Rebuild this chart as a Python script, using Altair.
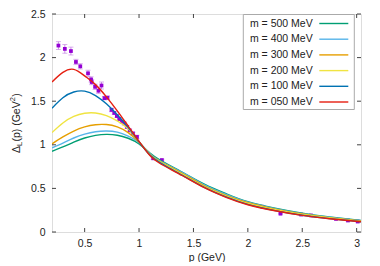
import altair as alt
import pandas as pd

# ---------------- data ----------------
p_grid = [0.2, 0.3, 0.4, 0.5, 0.6, 0.7, 0.8, 0.9, 1.0, 1.1, 1.2, 1.4, 1.6, 1.8, 2.0, 2.25, 2.5, 2.75, 3.04]

d500 = [0.925, 0.975, 1.03, 1.078, 1.108, 1.12, 1.11, 1.075, 1.01, 0.905, 0.82, 0.685, 0.55, 0.44, 0.347, 0.273, 0.215, 0.172, 0.133]
d400 = [0.965, 1.02, 1.078, 1.122, 1.15, 1.158, 1.145, 1.10, 1.025, 0.898, 0.81, 0.68, 0.54, 0.43, 0.342, 0.268, 0.211, 0.169, 0.130]
d300 = [1.01, 1.09, 1.158, 1.205, 1.23, 1.232, 1.205, 1.14, 1.03, 0.892, 0.805, 0.67, 0.53, 0.42, 0.335, 0.262, 0.206, 0.165, 0.127]
d200 = [1.14, 1.25, 1.325, 1.362, 1.365, 1.335, 1.275, 1.185, 1.035, 0.887, 0.80, 0.66, 0.52, 0.412, 0.327, 0.255, 0.200, 0.160, 0.122]
d100 = [1.42, 1.54, 1.605, 1.615, 1.565, 1.47, 1.345, 1.20, 1.035, 0.882, 0.79, 0.65, 0.512, 0.402, 0.316, 0.245, 0.192, 0.153, 0.118]
d050 = [1.72, 1.83, 1.865, 1.79, 1.69, 1.55, 1.39, 1.215, 1.04, 0.877, 0.78, 0.645, 0.508, 0.398, 0.313, 0.243, 0.190, 0.152, 0.117]

series_labels = ["m = 500 MeV", "m = 400 MeV", "m = 300 MeV", "m = 200 MeV", "m = 100 MeV", "m = 050 MeV"]
series_values = [d500, d400, d300, d200, d100, d050]
series_colors = ["#009e73", "#56b4e9", "#e69f00", "#f0e442", "#0072b2", "#e51e10"]

lat_p = [0.259, 0.318, 0.374, 0.42, 0.46, 0.531, 0.559, 0.565, 0.596, 0.627, 0.655, 0.682, 0.71,
         0.747, 0.772, 0.796, 0.818, 0.843, 0.865, 0.889, 0.914, 0.944, 0.981, 1.13, 1.21,
         2.133, 2.30, 2.49, 2.58, 2.81, 2.92, 3.01]
lat_D = [2.138, 2.10, 2.075, 1.95, 1.90, 1.82, 1.75, 1.72, 1.665, 1.62, 1.68, 1.535, 1.54,
         1.40, 1.365, 1.33, 1.295, 1.265, 1.245, 1.205, 1.165, 1.13, 1.09, 0.845, 0.825,
         0.29, 0.21, 0.20, 0.19, 0.15, 0.132, 0.12]
lat_err = [0.045, 0.05, 0.045, 0.03, 0.03, 0.035, 0.03, 0.03, 0.03, 0.03, 0.04, 0.02, 0.02,
           0.02, 0.015, 0.015, 0.015, 0.015, 0.015, 0.015, 0.015, 0.015, 0.02, 0.01, 0.01,
           0.005, 0.005, 0.005, 0.005, 0.005, 0.005, 0.005]

x_ticks = [0.5, 1, 1.5, 2, 2.5, 3]
y_ticks = [0, 0.5, 1, 1.5, 2, 2.5]

# ---------------- layout ----------------
W, H = 309, 218
FONT = "Liberation Sans"
FS = 10.5
TXT = "#222222"

xs = alt.Scale(domain=[0.2, 3.04], nice=False, zero=False)
ys = alt.Scale(domain=[0, 2.5], nice=False, zero=False)
color_scale = alt.Scale(domain=series_labels, range=series_colors)

x_axis = alt.Axis(values=x_ticks, format="~g", tickSize=0, domain=False, grid=False,
                  labelPadding=6, title="p (GeV)", titlePadding=4, titleFontWeight="normal",
                  titleFont=FONT, titleFontSize=FS, titleColor=TXT,
                  labelFont=FONT, labelFontSize=FS, labelColor=TXT)
y_axis = alt.Axis(values=y_ticks, format="~g", tickSize=0, domain=False, grid=False,
                  labelPadding=7, title=None,
                  labelFont=FONT, labelFontSize=FS, labelColor=TXT)

lat = pd.DataFrame({"p": lat_p, "D": lat_D, "e": lat_err})
lat["lo"] = lat["D"] - lat["e"]
lat["hi"] = lat["D"] + lat["e"]

base_lat = alt.Chart(lat)
err_rule = base_lat.mark_rule(color="#c98be6", strokeWidth=1).encode(
    x=alt.X("p:Q", scale=xs, axis=x_axis),
    y=alt.Y("lo:Q", scale=ys, axis=y_axis),
    y2="hi:Q",
)
cap_lo = base_lat.mark_tick(color="#c98be6", orient="horizontal", size=5, thickness=1).encode(
    x=alt.X("p:Q", scale=xs), y=alt.Y("lo:Q", scale=ys))
cap_hi = base_lat.mark_tick(color="#c98be6", orient="horizontal", size=5, thickness=1).encode(
    x=alt.X("p:Q", scale=xs), y=alt.Y("hi:Q", scale=ys))
pts = base_lat.mark_square(color="#9400d3", size=14, opacity=1).encode(
    x=alt.X("p:Q", scale=xs), y=alt.Y("D:Q", scale=ys))

layers = [err_rule, cap_lo, cap_hi, pts]

for lab, vals in zip(series_labels, series_values):
    df = pd.DataFrame({"p": p_grid, "D": vals, "m": lab})
    layers.append(
        alt.Chart(df).mark_line(strokeWidth=1.4, interpolate="natural", clip=True).encode(
            x=alt.X("p:Q", scale=xs),
            y=alt.Y("D:Q", scale=ys),
            color=alt.Color("m:N", scale=color_scale, legend=None),
        )
    )

# inward tick marks on all four sides
xt = alt.Chart(pd.DataFrame({"p": x_ticks}))
yt = alt.Chart(pd.DataFrame({"D": y_ticks}))
TK = "#444444"
layers.append(xt.mark_rule(color=TK).encode(x=alt.X("p:Q", scale=xs), y=alt.value(H), y2=alt.value(H - 4)))
layers.append(xt.mark_rule(color=TK).encode(x=alt.X("p:Q", scale=xs), y=alt.value(0), y2=alt.value(4)))
layers.append(yt.mark_rule(color=TK).encode(y=alt.Y("D:Q", scale=ys), x=alt.value(0), x2=alt.value(4)))
layers.append(yt.mark_rule(color=TK).encode(y=alt.Y("D:Q", scale=ys), x=alt.value(W), x2=alt.value(W - 4)))

# legend box (gnuplot style: label then sample)
one = alt.Chart(pd.DataFrame({"a": [0]}))
layers.append(one.mark_rect(fill="white", stroke="#aaaaaa", strokeWidth=1).encode(
    x=alt.value(191.3), x2=alt.value(302.3), y=alt.value(0.5), y2=alt.value(95.5)))
for i, (lab, col) in enumerate(zip(series_labels, series_colors)):
    yy = 9.5 + 15.7 * i
    layers.append(one.mark_text(text=lab, align="right", baseline="middle", font=FONT,
                                fontSize=FS, color=TXT).encode(x=alt.value(260.7), y=alt.value(yy)))
    layers.append(one.mark_rule(color=col, strokeWidth=1.4).encode(
        x=alt.value(267.3), x2=alt.value(296.3), y=alt.value(yy)))

# y-axis title: Δ_L(p) (GeV^2), rotated
ty_x = -35
ty_y = 139
title_parts = [("Δ", FS, 0, 0), ("L", 7.5, 7.0, 3), ("(p) (GeV", FS, 11.4, 0), ("2", 7.5, 51.8, -4), (")", FS, 56.2, 0)]
for txt, fs, dx, dy in title_parts:
    layers.append(one.mark_text(text=txt, angle=270, align="left", baseline="middle", font=FONT,
                                fontSize=fs, color=TXT, dx=dx, dy=dy).encode(
        x=alt.value(ty_x), y=alt.value(ty_y)))

chart = alt.layer(*layers).properties(
    width=W, height=H,
    autosize=alt.AutoSizeParams(type="none"),
    padding={"left": 44, "top": 6, "right": 10, "bottom": 30},
).configure_view(stroke="#222222", strokeWidth=1).configure(background="white")

chart.save("out.html", embed_options={"renderer": "svg", "actions": False})
